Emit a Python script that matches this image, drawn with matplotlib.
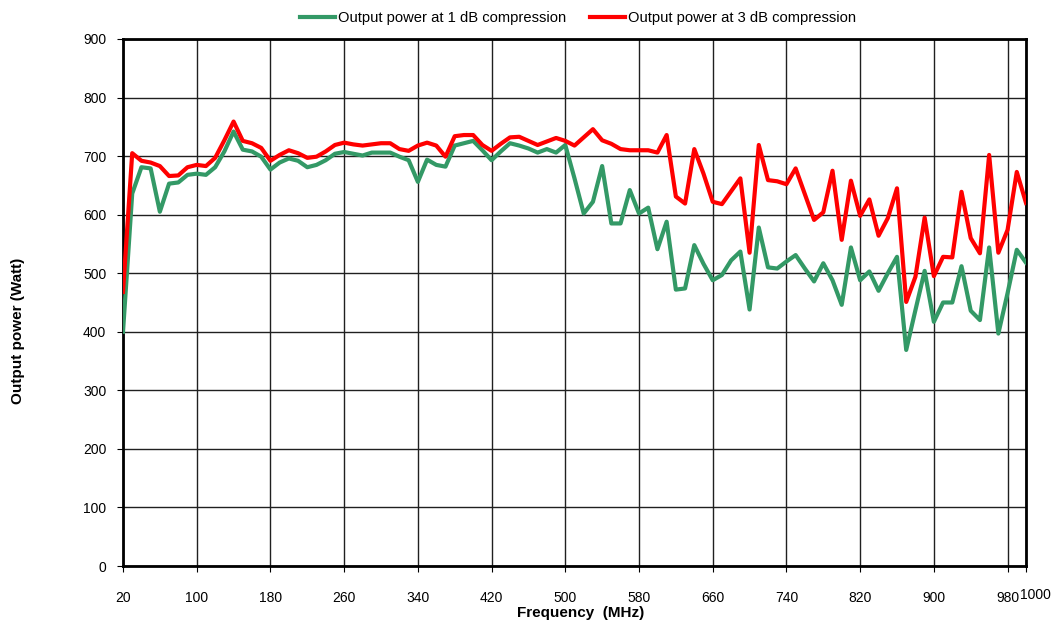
import matplotlib.pyplot as plt
import matplotlib.transforms as mtransforms
import numpy as np

plt.rcParams['font.family'] = ['Liberation Sans', 'DejaVu Sans']

# Frequency points (MHz), one every 10 MHz
freq_mhz = list(range(20, 1001, 10))

# Output power at 1 dB compression (Watt)
p1db_watt = [
    400, 636, 681, 679, 605, 653, 655, 668, 670, 668,
    681, 708, 742, 711, 708, 699, 677, 689, 696, 692,
    681, 685, 693, 704, 707, 704, 701, 706, 706, 706,
    699, 693, 656, 694, 685, 682, 718, 722, 726, 710,
    693, 708, 722, 718, 713, 706, 712, 706, 719, 662,
    602, 622, 683, 585, 585, 642, 602, 612, 541, 588,
    472, 474, 548, 516, 488, 497, 522, 537, 438, 578,
    510, 508, 520, 531, 508, 486, 517, 488, 446, 544,
    488, 503, 470, 500, 528, 369, 437, 504, 417, 450,
    450, 512, 436, 420, 544, 397, 466, 540, 518,
]

# Output power at 3 dB compression (Watt)
p3db_watt = [
    468, 705, 692, 689, 683, 666, 667, 681, 685, 683,
    697, 727, 759, 726, 722, 714, 692, 702, 710, 705,
    697, 699, 708, 719, 723, 720, 718, 720, 722, 722,
    712, 709, 718, 723, 718, 699, 734, 736, 736, 719,
    709, 721, 732, 733, 726, 719, 725, 731, 726, 718,
    732, 746, 727, 721, 712, 710, 710, 710, 706, 736,
    631, 619, 712, 670, 622, 618, 640, 662, 535, 719,
    659, 657, 652, 679, 635, 591, 604, 675, 557, 658,
    598, 626, 564, 594, 645, 451, 494, 595, 495, 528,
    527, 639, 560, 534, 702, 535, 574, 673, 620,
]

x_ticks = list(range(20, 981, 80)) + [1000]
y_ticks = list(range(0, 901, 100))

W, H = 1060, 621
fig = plt.figure(figsize=(W / 100, H / 100), dpi=100)
ax = fig.add_axes([123 / W, 1 - 566 / H, (1026 - 123) / W, (566 - 39) / H])

ax.plot(freq_mhz, p1db_watt, color='#339966', linewidth=3,
        label='Output power at 1 dB compression', zorder=3)
ax.plot(freq_mhz, p3db_watt, color='#ff0000', linewidth=3,
        label='Output power at 3 dB compression', zorder=4)

ax.set_xlim(20, 1000)
ax.set_ylim(0, 900)
ax.set_xticks(x_ticks)
ax.set_yticks(y_ticks)
ax.grid(True, color='#202020', linewidth=1.0)
ax.set_axisbelow(True)

for s in ax.spines.values():
    s.set_linewidth(2)
    s.set_color('black')

ax.tick_params(axis='x', direction='out', length=4, pad=14, labelsize=10)
ax.tick_params(axis='y', direction='out', length=4, pad=8, labelsize=10)

# the 1000 label sits to the right of its tick and a bit higher
shift = mtransforms.ScaledTranslation(-6 / 100, 3 / 100, fig.dpi_scale_trans)
for lbl in ax.get_xticklabels():
    if lbl.get_text() == '1000':
        lbl.set_horizontalalignment('left')
        lbl.set_transform(lbl.get_transform() + shift)

fig.text(581 / W, 1 - 613 / H, 'Frequency  (MHz)', fontsize=11,
         fontweight='bold', ha='center', va='center')
fig.text(18 / W, 1 - 331 / H, 'Output power (Watt)', fontsize=11,
         fontweight='bold', ha='center', va='center', rotation=90)

fig.legend(loc='center', bbox_to_anchor=(578 / W, 1 - 18 / H), ncol=2,
           frameon=False, fontsize=10.6, handlelength=2.4, handletextpad=0.2,
           columnspacing=1.6)

fig.savefig('out.png', dpi=100)
